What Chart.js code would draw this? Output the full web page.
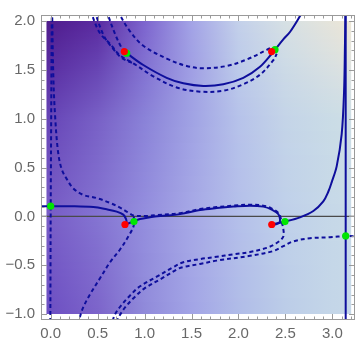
<!DOCTYPE html>
<html><head><meta charset="utf-8">
<script src="https://cdn.jsdelivr.net/npm/chart.js@4"></script>
<style>html,body{margin:0;padding:0;background:#fff}#wrap{width:360px;height:343px}</style>
</head><body><div id="wrap"><canvas id="c" width="360" height="343"></canvas></div>
<script>
// ---- tick labels ----
const xTickValues = [0, 0.5, 1, 1.5, 2, 2.5, 3];
const yTickValues = [-1, -0.5, 0, 0.5, 1, 1.5, 2];
const xRange = [-0.1033, 3.2407];
const yRange = [-1.061, 2.062];

// ---- special points ----
const redX = [0.784, 2.353, 0.791, 2.354];
const redY = [1.688, 1.688, -0.083, -0.083];
const greenX = [0.809, 2.389, 0, 0.887, 2.495, 3.1416];
const greenY = [1.671, 1.707, 0.104, -0.053, -0.053, -0.2];

// ---- solid curves ----
const solidUpperArc = [[0.809,1.671],[0.986,1.550],[1.235,1.419],[1.412,1.363],[1.625,1.336],[1.838,1.353],[2.051,1.419],[2.229,1.533],[2.354,1.665],[2.389,1.707],[2.477,1.813],[2.548,1.888],[2.662,2.062],[2.69,2.11]];
const solidLeftBranch = [[-0.15,0.104],[0,0.104],[0.241,0.104],[0.454,0.095],[0.596,0.072],[0.703,0.049],[0.773,0.018],[0.802,-0.027],[0.807,-0.061],[0.791,-0.083]];
const solidMiddleBranch = [[0.791,-0.083],[0.887,-0.053],[0.951,-0.027],[1.057,-0.010],[1.164,0.003],[1.377,0.023],[1.590,0.065],[1.768,0.085],[1.945,0.100],[2.122,0.110],[2.264,0.100],[2.354,0.070],[2.424,0.023],[2.442,-0.027],[2.435,-0.065],[2.400,-0.080],[2.354,-0.083]];
const solidRightBranch = [[2.354,-0.083],[2.495,-0.053],[2.655,-0.010],[2.797,0.055],[2.903,0.154],[2.956,0.252],[2.993,0.351],[3.046,0.515],[3.099,0.843],[3.124,1.271],[3.134,1.767],[3.138,2.062],[3.139,2.11]];
const solidPiLine = [[3.1416,-1.11],[3.1416,2.11]];

// ---- dashed curves ----
const dashedUpperOuter = [[0.73,2.11],[0.738,2.062],[0.845,1.895],[0.986,1.747],[1.235,1.616],[1.448,1.540],[1.625,1.517],[1.874,1.540],[2.087,1.606],[2.300,1.704],[2.346,1.727]];
const dashedToRed = [[0.60,2.11],[0.610,2.062],[0.695,1.845],[0.749,1.737],[0.784,1.688]];
const dashedLowerArc = [[0.43,2.11],[0.440,2.062],[0.525,1.875],[0.632,1.767],[0.738,1.648],[0.880,1.567],[1.093,1.434],[1.342,1.320],[1.590,1.277],[1.838,1.287],[2.051,1.353],[2.229,1.451],[2.371,1.599],[2.407,1.665]];
const dashedLowerArcTwin = [[0.47,2.11],[0.482,2.062],[0.568,1.845],[0.663,1.718],[0.759,1.620],[0.880,1.567]];
const dashedLeftVertical = [[0.012,2.11],[0.008,1.5],[0.004,0.8],[0.0,0.104],[-0.002,-0.5],[-0.004,-1.11]];
const dashedLeftCurve = [[0.015,2.11],[0.028,1.434],[0.046,1.040],[0.078,0.663],[0.117,0.483],[0.170,0.384],[0.241,0.286],[0.347,0.220],[0.490,0.187],[0.632,0.138],[0.738,0.089],[0.826,0.039],[0.880,0.010],[1.022,0.004],[1.129,0.014],[1.377,0.033],[1.590,0.075],[1.768,0.095],[1.945,0.110],[2.122,0.120],[2.264,0.110],[2.354,0.080],[2.430,0.030],[2.452,-0.027],[2.465,-0.076],[2.477,-0.125],[2.477,-0.207],[2.407,-0.273],[2.300,-0.322],[2.122,-0.365],[1.945,-0.388],[1.768,-0.414],[1.590,-0.437],[1.412,-0.470],[1.306,-0.520],[1.129,-0.618],[0.951,-0.716],[0.845,-0.810],[0.749,-0.913],[0.680,-1.012],[0.650,-1.11]];
const dashedFromGreen = [[0.885,0.0],[0.887,-0.053],[0.880,-0.108],[0.826,-0.207],[0.738,-0.339],[0.632,-0.470],[0.525,-0.634],[0.419,-0.798],[0.347,-0.930],[0.312,-1.029],[0.301,-1.11]];
const dashedFromPi = [[3.30,-0.207],[3.1416,-0.201],[2.974,-0.214],[2.761,-0.224],[2.584,-0.256],[2.477,-0.305],[2.371,-0.355],[2.122,-0.404],[1.768,-0.453],[1.590,-0.487],[1.412,-0.519],[1.350,-0.540],[1.175,-0.640],[0.996,-0.740],[0.890,-0.830],[0.794,-0.930],[0.725,-1.030],[0.695,-1.11]];
const zeroLine = [[-0.2,0],[3.4,0]];

// ---- density background (colour field) ----
const fieldX = [-0.045, 0.5, 1.0, 1.5, 2.0, 2.5, 3.0, 3.2];
const fieldY = [2, 1.5, 1, 0, -1];
const fieldRowTop   = ['#4f1c8c','#5a2aa0','#7d64ce','#a3a3e6','#c3d0ea','#d6e0e4','#e6e4da','#ede6d6'];
const fieldRow15    = ['#5a2ea2','#6846b4','#8272d2','#a09fe4','#bccaea','#ccdae6','#d8e0e2','#dee2e0'];
const fieldRow1     = ['#6644b6','#7860c6','#8a82d8','#a0a2e4','#b6c2ea','#c4d4e8','#cadce6','#cddee6'];
const fieldRow0     = ['#785cc6','#8474d2','#948ede','#a6a8e6','#b4bfea','#bfd0ea','#c6d8e8','#c8dae8'];
const fieldRowBottom= ['#6c4ec2','#7c64ca','#908ada','#a2a4e6','#b0bce8','#bccde8','#c4d6e8','#c6d8e8'];
const fieldRows = [fieldRowTop, fieldRow15, fieldRow1, fieldRow0, fieldRowBottom];

const LINE = 'rgb(14,14,156)';
const pts = a => a.map(p => ({x:p[0], y:p[1]}));
const zipPts = (xs, ys) => xs.map((v,i)=>({x:v, y:ys[i]}));

function hex(c){return [parseInt(c.slice(1,3),16),parseInt(c.slice(3,5),16),parseInt(c.slice(5,7),16)];}
function mix(a,b,t){const A=hex(a),B=hex(b);return 'rgb('+A.map((v,i)=>Math.round(v+(B[i]-v)*t)).join(',')+')';}

const densityPlugin = {
  id:'density',
  beforeDatasetsDraw(chart){
    const {ctx, scales:{x,y}} = chart;
    const left = x.getPixelForValue(fieldX[0]), right = x.getPixelForValue(fieldX[fieldX.length-1]);
    const top = y.getPixelForValue(fieldY[0]), bottom = y.getPixelForValue(fieldY[fieldY.length-1]);
    ctx.save();
    for (let py = Math.round(top); py < Math.round(bottom); py++) {
      const v = y.getValueForPixel(py+0.5);
      let k = 0;
      while (k < fieldY.length-2 && v < fieldY[k+1]) k++;
      let t = (fieldY[k]-v)/(fieldY[k]-fieldY[k+1]);
      t = Math.max(0, Math.min(1, t));
      const g = ctx.createLinearGradient(left,0,right,0);
      fieldX.forEach((fx,i)=>{
        g.addColorStop((x.getPixelForValue(fx)-left)/(right-left), mix(fieldRows[k][i], fieldRows[k+1][i], t));
      });
      ctx.fillStyle = g;
      ctx.fillRect(left, py, right-left, 1);
    }
    ctx.restore();
  }
};

const framePlugin = {
  id:'frame',
  afterDatasetsDraw(chart){
    const {ctx, chartArea:a, scales:{x,y}} = chart;
    ctx.save();
    ctx.strokeStyle = '#9a9a9a';
    ctx.lineWidth = 1;
    ctx.strokeRect(a.left+0.5, a.top+0.5, a.right-a.left-1, a.bottom-a.top-1);
    ctx.beginPath();
    for (let i=-1;i<=32;i++){
      const v=i/10; if (v<x.min||v>x.max) continue;
      const len = (i%5===0)?6:3.5;
      const px = Math.round(x.getPixelForValue(v))+0.5;
      ctx.moveTo(px,a.bottom); ctx.lineTo(px,a.bottom-len);
      ctx.moveTo(px,a.top); ctx.lineTo(px,a.top+len);
    }
    for (let i=-10;i<=20;i++){
      const v=i/10; if (v<y.min||v>y.max) continue;
      const len = (i%5===0)?6:3.5;
      const py = Math.round(y.getPixelForValue(v))+0.5;
      ctx.moveTo(a.left,py); ctx.lineTo(a.left+len,py);
      ctx.moveTo(a.right,py); ctx.lineTo(a.right-len,py);
    }
    ctx.stroke();
    ctx.restore();
  }
};

const fmt = v => (v<0?'\u2212':'') + Math.abs(v).toFixed(1);

const solid = (d) => ({data:pts(d), showLine:true, borderColor:LINE, borderWidth:2, pointRadius:0, tension:0.35, order:3});
const dashed = (d) => ({data:pts(d), showLine:true, borderColor:LINE, borderWidth:2, borderDash:[4,3], pointRadius:0, tension:0.35, order:2});

new Chart(document.getElementById('c'), {
  type:'scatter',
  data:{datasets:[
    {data:pts(zeroLine), showLine:true, borderColor:'#4a4a4a', borderWidth:1.2, pointRadius:0, order:6},
    solid(solidUpperArc), solid(solidLeftBranch), solid(solidMiddleBranch), solid(solidRightBranch), solid(solidPiLine),
    dashed(dashedUpperOuter), dashed(dashedToRed), dashed(dashedLowerArc), dashed(dashedLowerArcTwin),
    dashed(dashedLeftVertical), dashed(dashedLeftCurve), dashed(dashedFromGreen), dashed(dashedFromPi),
    {data:zipPts(greenX,greenY), showLine:false, pointRadius:3.6, pointBackgroundColor:'#00e600', pointBorderWidth:0, order:1},
    {data:zipPts(redX,redY), showLine:false, pointRadius:3.6, pointBackgroundColor:'#ff0000', pointBorderWidth:0, order:0}
  ]},
  options:{
    responsive:false, animation:false, devicePixelRatio:1,
    layout:{padding:{top:3,right:5,left:0,bottom:0}},
    plugins:{legend:{display:false}, tooltip:{enabled:false}},
    scales:{
      x:{type:'linear', min:xRange[0], max:xRange[1],
        grid:{display:false, drawTicks:false}, border:{display:false},
        afterBuildTicks:s=>{s.ticks = xTickValues.map(v=>({value:v}));},
        afterFit:s=>{s.height=23;},
        ticks:{autoSkip:false, maxRotation:0, padding:5, color:'#686868', font:{family:'Liberation Sans', size:15}, callback:v=>fmt(v)}},
      y:{type:'linear', min:yRange[0], max:yRange[1],
        grid:{display:false, drawTicks:false}, border:{display:false},
        afterBuildTicks:s=>{s.ticks = yTickValues.map(v=>({value:v}));},
        afterFit:s=>{s.width=41;},
        ticks:{autoSkip:false, padding:6, color:'#686868', font:{family:'Liberation Sans', size:15}, callback:v=>fmt(v)}}
    }
  },
  plugins:[densityPlugin, framePlugin]
});
</script></body></html>
